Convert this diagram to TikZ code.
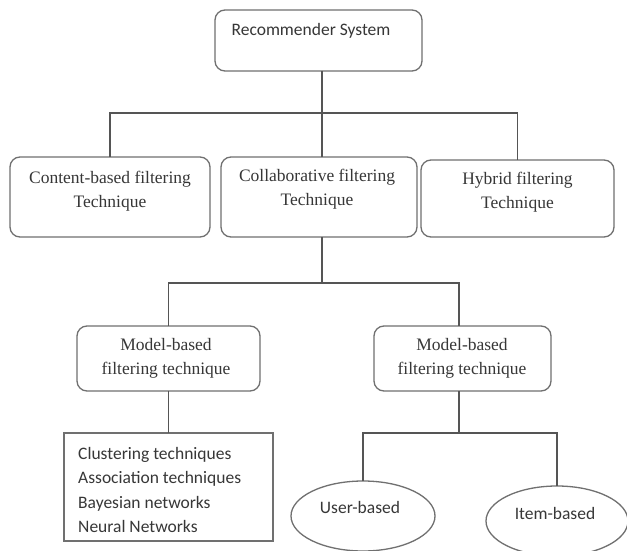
\documentclass[tikz,border=0pt]{standalone}
\usepackage{fontspec}
\setmainfont{Liberation Serif}
\newfontfamily\calibri{Carlito}
\usetikzlibrary{shapes.geometric}
\definecolor{boxline}{RGB}{112,112,112}
\definecolor{conline}{RGB}{85,85,85}
\definecolor{txt}{RGB}{55,55,55}
\tikzset{
  rbox/.style={draw=boxline, line width=1.3pt, rounded corners=10pt, inner sep=0pt, outer sep=0pt},
  sbox/.style={draw=boxline, line width=1.3pt, inner sep=0pt, outer sep=0pt},
  ebox/.style={ellipse, draw=boxline, line width=1.3pt, inner sep=0pt, outer sep=0pt},
  conn/.style={draw=conline, line width=1.3pt},
  sertxt/.style={text=txt, align=center, inner sep=0pt, font=\fontsize{17.5}{23.5}\selectfont},
  santxt/.style={text=txt, align=center, inner sep=0pt, font=\calibri\fontsize{17.5}{24.5}\selectfont},
}
\begin{document}
\begin{tikzpicture}[x=1pt,y=-1pt]
\useasboundingbox[fill=white] (0,0) rectangle (627,551);
% boxes
\node[rbox, minimum width=207pt, minimum height=61pt] (rs) at (318.5,40.5) {};
\node[rbox, minimum width=200pt, minimum height=80pt] (cb) at (110,197) {};
\node[rbox, minimum width=196pt, minimum height=80pt] (cf) at (319,197) {};
\node[rbox, minimum width=193pt, minimum height=77pt] (hf) at (517.5,198.5) {};
\node[rbox, minimum width=183pt, minimum height=65pt] (mb1) at (168.5,358.5) {};
\node[rbox, minimum width=177pt, minimum height=65pt] (mb2) at (462.5,358.5) {};
\node[sbox, minimum width=209pt, minimum height=108pt] (list) at (168.5,487) {};
\node[ebox, minimum width=144pt, minimum height=70pt] (ub) at (363,516) {};
\node[ebox, minimum width=142pt, minimum height=70pt] (ib) at (557,521) {};
% texts
\node[santxt] (trs) at (311,31) {Recommender System};
\node[sertxt] (tcb) at (110,191) {Content-based filtering\\Technique};
\node[sertxt] (tcf) at (317,189) {Collaborative filtering\\Technique};
\node[sertxt] (thf) at (517.5,192) {Hybrid filtering\\Technique};
\node[sertxt] (tmb1) at (166,358.5) {Model-based\\filtering technique};
\node[sertxt] (tmb2) at (462,358.5) {Model-based\\filtering technique};
\node[santxt, align=left, anchor=west] (tlist) at (78,490) {Clustering techniques\\Association techniques\\Bayesian networks\\Neural Networks};
\node[santxt] (tub) at (360,507) {User-based};
\node[santxt] (tib) at (555,513) {Item-based};
% junctions
\coordinate (j1) at (322,113);
\coordinate (j2) at (322,283);
\coordinate (j3) at (459,433);
% connectors
\draw[conn] (j1 |- rs.south) -- (j1);
\draw[conn] (cb.north) |- (j1) -| (hf.north);
\draw[conn] (j1) -- (j1 |- cf.north);
\draw[conn] (j2 |- cf.south) -- (j2);
\draw[conn] (mb1.north) |- (j2) -| (j3 |- mb2.north);
\draw[conn] (mb1.south) -- (list.north);
\draw[conn] (j3 |- mb2.south) -- (j3);
\draw[conn] (ub.north) |- (j3) -| (ib.north);
\end{tikzpicture}
\end{document}
